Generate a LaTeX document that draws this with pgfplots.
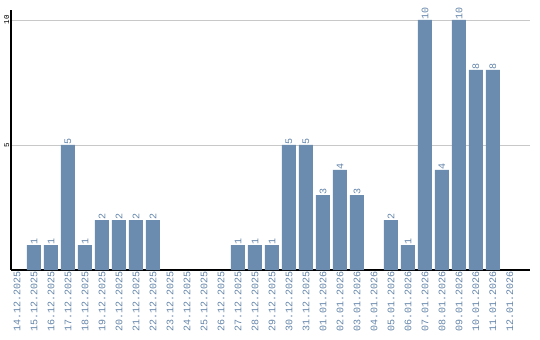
\documentclass[border=0pt]{standalone}
\usepackage{fontspec}
\setmainfont{Liberation Mono}
\usepackage{pgfplots}
\pgfplotsset{compat=1.18}
\definecolor{barc}{RGB}{107,140,174}
\definecolor{txtc}{RGB}{100,133,170}
\definecolor{gridc}{RGB}{200,200,200}
\begin{document}
\begin{tikzpicture}
\useasboundingbox (-11bp,-70bp) rectangle (529bp,270bp);
\begin{axis}[
  scale only axis,
  width=519bp, height=260bp,
  xmin=-0.353, xmax=30.18,
  ymin=0, ymax=10.4,
  axis x line*=bottom, axis y line*=left,
  axis line style={black, line width=1.2bp},
  ybar, bar width=14bp,
  xtick={0,...,29},
  xticklabels={14.12.2025,15.12.2025,16.12.2025,17.12.2025,18.12.2025,19.12.2025,20.12.2025,21.12.2025,22.12.2025,23.12.2025,24.12.2025,25.12.2025,26.12.2025,27.12.2025,28.12.2025,29.12.2025,30.12.2025,31.12.2025,01.01.2026,02.01.2026,03.01.2026,04.01.2026,05.01.2026,06.01.2026,07.01.2026,08.01.2026,09.01.2026,10.01.2026,11.01.2026,12.01.2026},
  xticklabel style={rotate=90, anchor=east, font=\fontsize{10bp}{10bp}\selectfont, text=txtc, inner sep=1bp},
  ytick={5,10},
  yticklabel style={rotate=90, anchor=south, font=\fontsize{7.5bp}{8bp}\selectfont, inner sep=1.5bp},
  /pgf/number format/assume math mode=true,
  major tick length=0pt,
  ymajorgrids, grid style={gridc, line width=0.8bp},
  nodes near coords,
  every node near coord/.append style={rotate=90, anchor=west, font=\fontsize{10bp}{10bp}\selectfont, text=txtc, inner sep=0.5bp},
  clip=false,
]
\addplot[fill=barc, draw=none] coordinates {
(1,1) (2,1) (3,5) (4,1) (5,2) (6,2) (7,2) (8,2)
(13,1) (14,1) (15,1) (16,5) (17,5) (18,3) (19,4) (20,3)
(22,2) (23,1) (24,10) (25,4) (26,10) (27,8) (28,8)
};
\end{axis}
\end{tikzpicture}
\end{document}
